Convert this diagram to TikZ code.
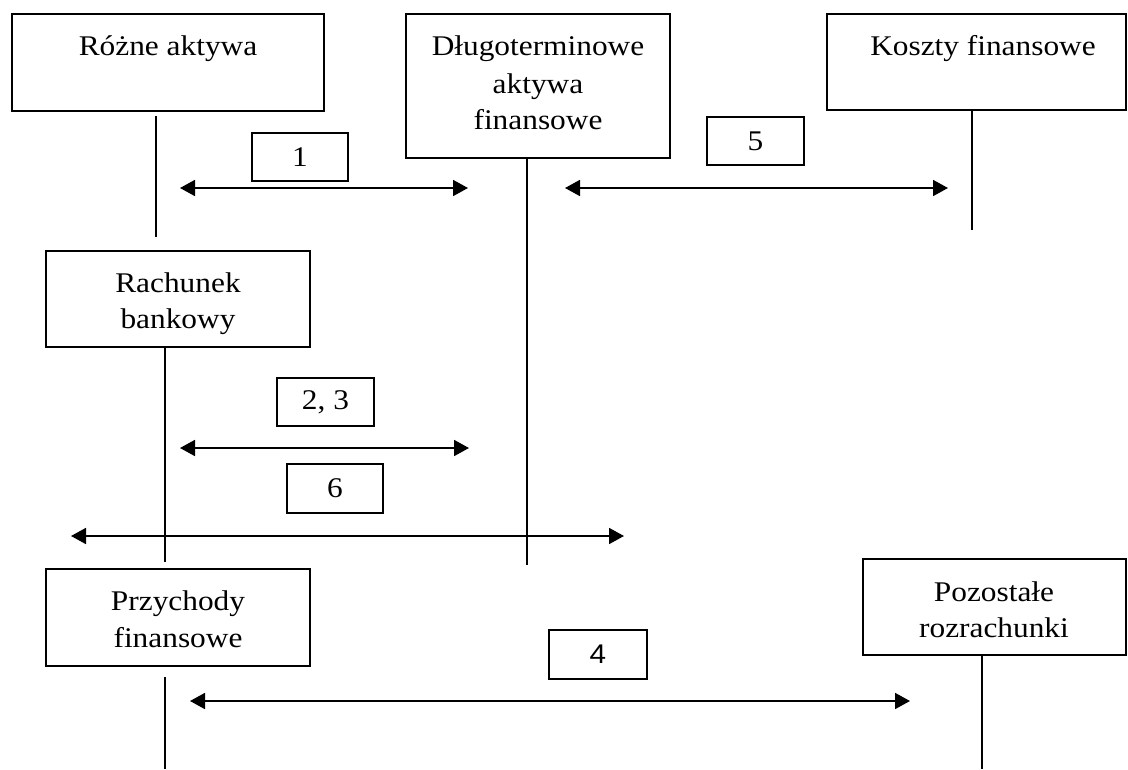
\documentclass[tikz,border=0pt]{standalone}
\usepackage{graphicx}
\usepackage{fontspec}
\setmainfont{Liberation Serif}
\newfontfamily\numsans{Liberation Sans}
\usetikzlibrary{arrows.meta}
% text in this chart is set slightly wide
\newcommand{\wtxt}[1]{\scalebox{1.1}[1]{#1}}
\tikzset{
  acct/.style={draw, line width=1.8pt, inner sep=0pt},
  caption/.style={anchor=base, inner sep=0pt, font=\fontsize{28.5}{36.5}\selectfont},
  numbox/.style={draw, line width=1.8pt, inner sep=0pt, minimum width=96pt, minimum height=48pt,
    font=\fontsize{28.5}{36.5}\selectfont},
  tline/.style={line width=1.3pt},
  flow/.style={line width=1.8pt, {Triangle[length=15pt,width=16pt]}-{Triangle[length=15pt,width=16pt]}}
}
\begin{document}
\begin{tikzpicture}[x=1pt, y=-1pt]
\useasboundingbox (0,0) rectangle (1128,769);

% account boxes
\node[acct, minimum width=312pt, minimum height=97pt] (R) at (168,62.5) {};
\node[acct, minimum width=264pt, minimum height=144pt] (D) at (538,86) {};
\node[acct, minimum width=299pt, minimum height=96pt] (K) at (976.5,62) {};
\node[acct, minimum width=264pt, minimum height=96pt] (B) at (178,299) {};
\node[acct, minimum width=264pt, minimum height=97pt] (P) at (178,617.5) {};
\node[acct, minimum width=263pt, minimum height=96pt] (Z) at (994.5,607) {};

% box captions
\node[caption] (Rt) at (168,55) {\wtxt{Różne aktywa}};
\node[caption] (Dt1) at (538,55) {\wtxt{Długoterminowe}};
\node[caption] (Dt2) at (538,93) {\wtxt{aktywa}};
\node[caption] (Dt3) at (538,129) {\wtxt{finansowe}};
\node[caption] (Kt) at (983,55) {\wtxt{Koszty finansowe}};
\node[caption] (Bt1) at (178,292) {\wtxt{Rachunek}};
\node[caption] (Bt2) at (178,328) {\wtxt{bankowy}};
\node[caption] (Pt1) at (178,610) {\wtxt{Przychody}};
\node[caption] (Pt2) at (178,647) {\wtxt{finansowe}};
\node[caption] (Zt1) at (994,601) {\wtxt{Pozostałe}};
\node[caption] (Zt2) at (994,637) {\wtxt{rozrachunki}};

% T-account stems
\coordinate (Rs1) at (156,116);  \coordinate (Rs2) at (156,237);
\coordinate (Ds1) at (527,158);  \coordinate (Ds2) at (527,565);
\coordinate (Ks1) at (972,111);  \coordinate (Ks2) at (972,230);
\coordinate (Bs1) at (165,347);  \coordinate (Bs2) at (165,562);
\coordinate (Ps1) at (165,677);  \coordinate (Ps2) at (165,769);
\coordinate (Zs1) at (982,655);  \coordinate (Zs2) at (982,769);
\draw[tline] (Rs1) -- (Rs2);
\draw[tline] (Ds1) -- (Ds2);
\draw[tline] (Ks1) -- (Ks2);
\draw[tline] (Bs1) -- (Bs2);
\draw[tline] (Ps1) -- (Ps2);
\draw[tline] (Zs1) -- (Zs2);

% operation numbers
\node[numbox] (n1) at (300,157) {\wtxt{1}};
\node[numbox, minimum width=97pt] (n5) at (755.5,141) {\wtxt{5}};
\node[numbox, minimum width=97pt] (n23) at (325.5,402) {\wtxt{2, 3}};
\node[numbox, minimum height=49pt] (n6) at (335,488.5) {\wtxt{6}};
\node[numbox, minimum width=98pt, minimum height=49pt, font=\fontsize{27}{36}\numsans] (n4) at (598,654.5) {\wtxt{4}};

% flows between accounts
\coordinate (a1l) at (180,188);  \coordinate (a1r) at (468,188);
\coordinate (a5l) at (565,188);  \coordinate (a5r) at (948,188);
\coordinate (a23l) at (180,448); \coordinate (a23r) at (469,448);
\coordinate (a6l) at (71,536);   \coordinate (a6r) at (624,536);
\coordinate (a4l) at (190,701);  \coordinate (a4r) at (910,701);
\draw[flow] (a1l) -- (a1r);
\draw[flow] (a5l) -- (a5r);
\draw[flow] (a23l) -- (a23r);
\draw[flow] (a6l) -- (a6r);
\draw[flow] (a4l) -- (a4r);
\end{tikzpicture}
\end{document}
